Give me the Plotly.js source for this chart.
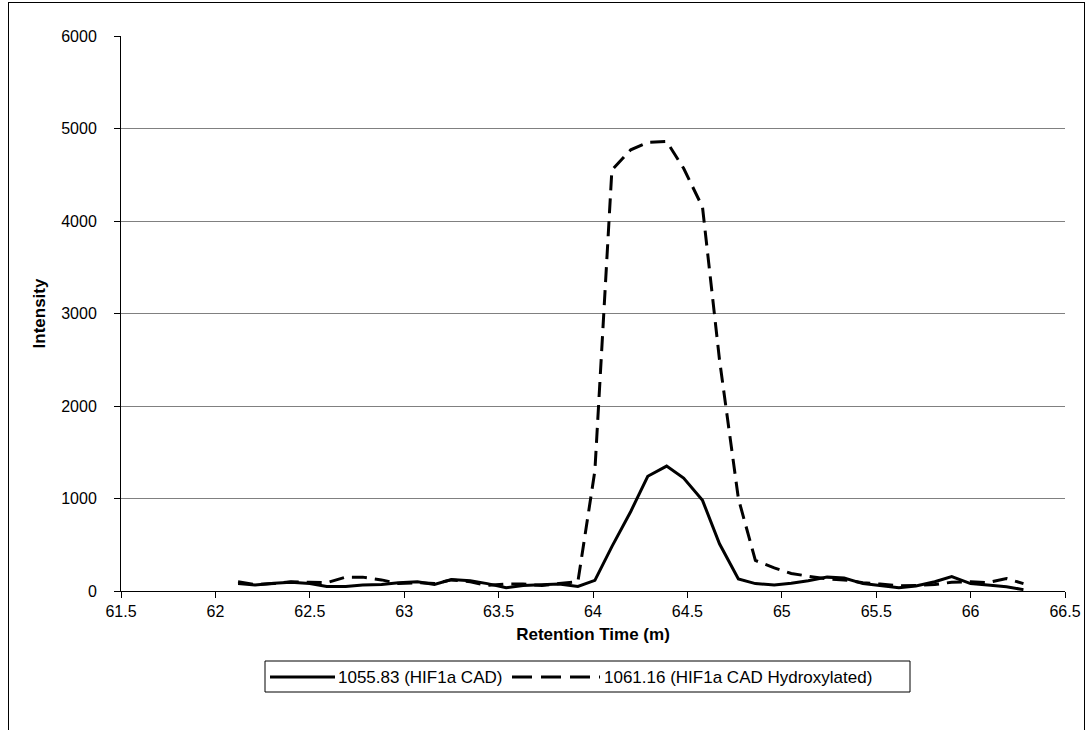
<!DOCTYPE html>
<html>
<head>
<meta charset="utf-8">
<script src="https://cdn.plot.ly/plotly-3.0.1.min.js"></script>
<style>
  html, body { margin: 0; padding: 0; background: #fff; overflow: hidden; }
  #frame { position: absolute; left: 8px; top: 2px; width: 1077px; height: 760px; border: 1px solid #000; box-sizing: border-box; }
  #chart { position: absolute; left: 0; top: 0; width: 1088px; height: 730px; }
</style>
</head>
<body>
<div id="frame"></div>
<div id="chart"></div>
<script>
// Retention time (minutes)
const retentionTime = [62.12, 62.21, 62.31, 62.40, 62.50, 62.59, 62.69, 62.78, 62.88, 62.97,
  63.07, 63.16, 63.25, 63.35, 63.44, 63.54, 63.63, 63.73, 63.82, 63.92,
  64.01, 64.10, 64.20, 64.29, 64.39, 64.48, 64.58, 64.67, 64.77, 64.86,
  64.96, 65.05, 65.14, 65.24, 65.33, 65.43, 65.52, 65.62, 65.71, 65.81,
  65.90, 66.00, 66.09, 66.19, 66.28];

// 1055.83 (HIF1a CAD)
const cadIntensity = [80, 65, 85, 95, 80, 50, 50, 65, 70, 90,
  100, 70, 125, 110, 80, 35, 60, 70, 75, 50,
  115, 480, 860, 1240, 1350, 1220, 980, 510, 130, 80,
  65, 85, 110, 150, 140, 80, 55, 35, 55, 100,
  155, 80, 65, 45, 15];

// 1061.16 (HIF1a CAD Hydroxylated)
const hydroxIntensity = [100, 70, 80, 100, 95, 90, 150, 150, 120, 80,
  90, 80, 120, 100, 60, 75, 75, 60, 80, 100,
  1300, 4550, 4770, 4850, 4860, 4570, 4150, 2500, 1000, 330,
  250, 190, 160, 130, 120, 90, 75, 55, 60, 70,
  95, 100, 90, 135, 80];

const seriesNames = ['1055.83 (HIF1a CAD)', '1061.16 (HIF1a CAD Hydroxylated)'];
const xTitle = 'Retention Time (m)';
const yTitle = 'Intensity';

const font = 'Liberation Sans, Arial, sans-serif';
const dashStyle = '15px,8px';

const traces = [
  {
    x: retentionTime, y: cadIntensity, name: seriesNames[0],
    type: 'scatter', mode: 'lines',
    line: { color: '#000', width: 3 }
  },
  {
    x: retentionTime, y: hydroxIntensity, name: seriesNames[1],
    type: 'scatter', mode: 'lines',
    line: { color: '#000', width: 3, dash: dashStyle }
  }
];

// plot area in pixels: left 121, right 1065, top 36, bottom 591
const PL = 121, PR = 1065, PT = 36, PB = 591;
const px2x = p => (p - PL) / (PR - PL);
const px2y = p => (PB - p) / (PB - PT);

// legend (drawn as a boxed key under the axis title)
const legY = 677;
const legFont = 17;
const shapes = [
  { type: 'rect', xref: 'paper', yref: 'paper',
    x0: px2x(265), x1: px2x(910), y0: px2y(692), y1: px2y(661),
    line: { color: '#000', width: 1 }, fillcolor: '#fff', layer: 'above' },
  { type: 'line', xref: 'paper', yref: 'paper',
    x0: px2x(270), x1: px2x(335), y0: px2y(legY), y1: px2y(legY),
    line: { color: '#000', width: 3 } , layer: 'above'},
  { type: 'line', xref: 'paper', yref: 'paper',
    x0: px2x(512), x1: px2x(600), y0: px2y(legY), y1: px2y(legY),
    line: { color: '#000', width: 3, dash: '20px,9px' }, layer: 'above' }
];
const annotations = [
  { xref: 'paper', yref: 'paper', x: px2x(336), y: px2y(legY), xanchor: 'left', yanchor: 'middle',
    text: seriesNames[0], showarrow: false, font: { family: font, size: legFont, color: '#000' } },
  { xref: 'paper', yref: 'paper', x: px2x(602), y: px2y(legY), xanchor: 'left', yanchor: 'middle',
    text: seriesNames[1], showarrow: false, font: { family: font, size: legFont, color: '#000' } }
];

const layout = {
  width: 1088, height: 730,
  margin: { l: PL, r: 1088 - PR, t: PT, b: 730 - PB },
  paper_bgcolor: 'rgba(0,0,0,0)',
  plot_bgcolor: '#fff',
  font: { family: font, size: 16, color: '#000' },
  showlegend: false,
  shapes: shapes,
  annotations: annotations,
  xaxis: {
    range: [61.5, 66.5], dtick: 0.5, tick0: 61.5,
    showgrid: false, zeroline: false,
    showline: true, linecolor: '#000', linewidth: 1,
    ticks: 'outside', ticklen: 6, tickcolor: '#000',
    tickfont: { family: font, size: 16 },
    title: { text: xTitle, font: { family: font, size: 17, weight: 'bold' }, standoff: 8 }
  },
  yaxis: {
    range: [0, 6000], dtick: 1000,
    showgrid: true, gridcolor: '#808080', gridwidth: 1,
    zeroline: false,
    showline: true, linecolor: '#000', linewidth: 1,
    ticks: 'outside', ticklen: 6, tickcolor: '#000',
    ticklabelstandoff: 14,
    tickfont: { family: font, size: 16 },
    title: { text: yTitle, font: { family: font, size: 17, weight: 'bold' }, standoff: 11 }
  }
};

Plotly.newPlot('chart', traces, layout, { displayModeBar: false, staticPlot: true });
</script>
</body>
</html>
